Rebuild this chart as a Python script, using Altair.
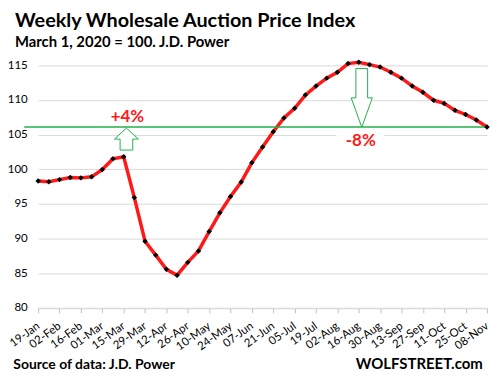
import json
import altair as alt
import pandas as pd

# ---- data ----
tick_labels = ["19-Jan", "02-Feb", "16-Feb", "01-Mar", "15-Mar", "29-Mar", "12-Apr",
               "26-Apr", "10-May", "24-May", "07-Jun", "21-Jun", "05-Jul", "19-Jul",
               "02-Aug", "16-Aug", "30-Aug", "13-Sep", "27-Sep", "11-Oct", "25-Oct",
               "08-Nov"]
index_values = [98.3, 98.2, 98.5, 98.8, 98.75, 98.9, 99.95, 101.5, 101.8, 95.9,
                89.6, 87.6, 85.55, 84.7, 86.55, 88.2, 91.0, 93.7, 96.05, 98.15,
                100.95, 103.2, 105.4, 107.4, 108.8, 110.7, 112.0, 113.15, 114.0, 115.25,
                115.45, 115.1, 114.75, 114.0, 113.15, 112.0, 111.1, 109.95, 109.5, 108.5,
                107.9, 107.1, 106.1]
weeks = list(range(len(index_values)))
x_ticks = list(range(0, len(index_values), 2))
y_ticks = [80, 85, 90, 95, 100, 105, 110, 115]

title_text = "Weekly Wholesale  Auction Price Index"
subtitle_text = "March 1, 2020 = 100. J.D. Power"
source_text = "Source of data: J.D. Power"
brand_text = "WOLFSTREET.com"

green_level = index_values[-1]
ann_text = ["+4%", "-8%"]
ann_x = [8.35, 30.19]
ann_y = [107.5, 104.07]

up_arrow = "M0,-0.92 L1,0 L0.53,0 L0.53,0.92 L-0.53,0.92 L-0.53,0 L-1,0 Z"
down_arrow = "M-0.2,-1 L0.2,-1 L0.2,0 L0.36,0 L0,1 L-0.36,0 L-0.2,0 Z"

FONT = "Lato"
RED = "#ff1a1a"
GREEN = "#22b14c"

df = pd.DataFrame({"week": weeks, "value": index_values})

label_expr = json.dumps(tick_labels) + "[round(datum.value/2)]"

x_scale = alt.Scale(domain=[0, 42], nice=False, zero=False)
y_scale = alt.Scale(domain=[80, 117], nice=False, zero=False)
x_axis = alt.Axis(
    values=x_ticks, labelExpr=label_expr, labelAngle=-36,
    labelAlign="right", labelBaseline="middle", labelPadding=12,
    tickSize=5, tickColor="#bfbfbf", domainColor="#d9d9d9", grid=False,
    title=None, labelFont=FONT, labelFontSize=11.5, labelColor="#000000",
    labelOverlap=False,
)
y_axis = alt.Axis(
    values=y_ticks, grid=True, gridColor="#d9d9d9",
    domain=False, ticks=False, labelPadding=11, title=None, labelFont=FONT,
    labelFontSize=11.5, labelColor="#000000", labelOverlap=False,
)


def X(field):
    return alt.X(field, scale=x_scale, axis=x_axis)


def Y(field):
    return alt.Y(field, scale=y_scale, axis=y_axis)


line = alt.Chart(df).mark_line(color=RED, strokeWidth=3.5).encode(
    x=X("week:Q"), y=Y("value:Q"))
points = alt.Chart(df).mark_point(shape="diamond", filled=True, color="black",
                                  size=30, opacity=1).encode(
    x=X("week:Q"), y=Y("value:Q"))

rule_df = pd.DataFrame({"x1": [-1.3], "x2": [42], "y": [green_level]})
green_rule = alt.Chart(rule_df).mark_rule(color=GREEN, strokeWidth=1.5).encode(
    x=X("x1:Q"), x2="x2", y=Y("y:Q"))

box_df = pd.DataFrame({"x1": [27.9], "x2": [32.37], "y1": [102.8], "y2": [105.7]})
box = alt.Chart(box_df).mark_rect(color="white").encode(
    x=X("x1:Q"), x2="x2", y=Y("y1:Q"), y2="y2")

up_df = pd.DataFrame({"x": [8.26], "y": [104.35]})
up = alt.Chart(up_df).mark_point(shape=up_arrow, filled=False, fill="white",
                                 stroke=GREEN, strokeWidth=1, size=576, opacity=1).encode(
    x=X("x:Q"), y=Y("y:Q"))
down_df = pd.DataFrame({"x": [30.28], "y": [110.3]})
down = alt.Chart(down_df).mark_point(shape=down_arrow, filled=False, fill="white",
                                     stroke=GREEN, strokeWidth=1, size=3481, opacity=1).encode(
    x=X("x:Q"), y=Y("y:Q"))

ann_df = pd.DataFrame({"t": ann_text, "x": ann_x, "y": ann_y})
ann = alt.Chart(ann_df).mark_text(font=FONT, fontSize=17, fontWeight="bold", color=RED,
                                  baseline="middle", align="center").encode(
    x=X("x:Q"), y=Y("y:Q"), text="t:N")


def label(text, x, y, size, align="left", weight="bold"):
    return alt.Chart(pd.DataFrame({"t": [text]})).mark_text(
        font=FONT, fontSize=size, fontWeight=weight, color="#000000",
        align=align, baseline="alphabetic").encode(
        text="t:N", x=alt.value(x), y=alt.value(y))


title = label(title_text, -23.3, -24.1, 19.9)
subtitle = label(subtitle_text, -23.3, -4.1, 14.9)
source = label(source_text, -25, 318.7, 14)
brand = label(brand_text, 446.7, 319.2, 15, align="right")

chart = alt.layer(
    line, green_rule, box, points, up, down, ann, title, subtitle, source, brand
).properties(
    width=451, height=257.5,
    autosize=alt.AutoSizeParams(type="none"),
    padding={"left": 30.3, "top": 42.8, "right": 4, "bottom": 66},
    background="white",
).configure_view(stroke=None).configure_axis(labelOverlap=False)

chart.save("out.html", embed_options={"renderer": "svg", "actions": False})
